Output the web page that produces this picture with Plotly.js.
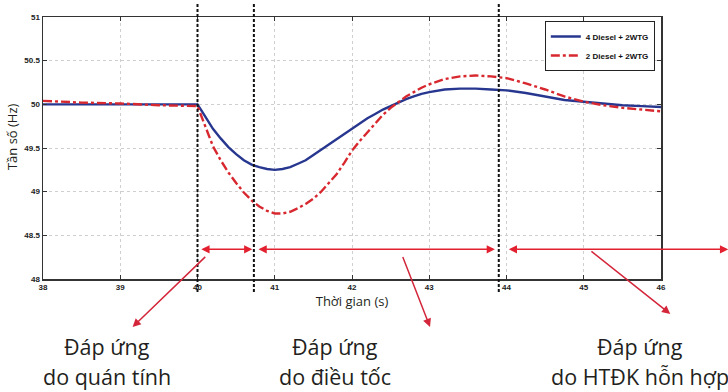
<!DOCTYPE html>
<html><head><meta charset="utf-8">
<script src="https://cdn.plot.ly/plotly-3.0.1.min.js"></script>
<style>html,body{margin:0;padding:0;background:#fff}#chart{width:728px;height:392px}</style>
</head><body><div id="chart"></div>
<script>
// ---- data ----
const time = [38, 38.5, 39, 39.5, 40, 40.05, 40.1, 40.2, 40.3, 40.4, 40.5, 40.6, 40.7, 40.8, 40.9, 41.0, 41.1, 41.2, 41.3, 41.4, 41.5, 41.6, 41.7, 41.8, 41.9, 42.0, 42.1, 42.2, 42.3, 42.4, 42.5, 42.6, 42.7, 42.8, 42.9, 43.0, 43.2, 43.4, 43.6, 43.8, 44.0, 44.25, 44.5, 44.75, 45.0, 45.25, 45.5, 45.75, 46];
const freq4Diesel = [50.0, 50.0, 50.0, 50.0, 50.0, 49.93, 49.86, 49.72, 49.61, 49.51, 49.43, 49.36, 49.31, 49.28, 49.26, 49.25, 49.26, 49.28, 49.32, 49.36, 49.42, 49.48, 49.55, 49.61, 49.67, 49.73, 49.79, 49.84, 49.89, 49.94, 49.98, 50.02, 50.06, 50.09, 50.12, 50.14, 50.17, 50.18, 50.18, 50.17, 50.16, 50.13, 50.09, 50.05, 50.03, 50.01, 49.99, 49.98, 49.97];
const freq2Diesel = [50.04, 50.02, 50.01, 49.99, 49.98, 49.87, 49.75, 49.52, 49.36, 49.22, 49.10, 48.99, 48.90, 48.83, 48.78, 48.75, 48.75, 48.77, 48.81, 48.86, 48.92, 49.00, 49.10, 49.20, 49.33, 49.47, 49.58, 49.68, 49.78, 49.88, 49.96, 50.03, 50.09, 50.14, 50.19, 50.23, 50.29, 50.32, 50.33, 50.32, 50.30, 50.24, 50.17, 50.09, 50.03, 49.99, 49.96, 49.94, 49.92];
const seriesNames = ['4 Diesel + 2WTG', '2 Diesel + 2WTG'];
const xTicks = [38, 39, 40, 41, 42, 43, 44, 45, 46];
const yTicks = [48, 48.5, 49, 49.5, 50, 50.5, 51];
const yTickLabels = ['48', '48.5', '49', '49.5', '50', '50.5', '51'];
const phaseBounds = [40.0, 40.73, 43.9];
const phaseSpanStart = [40.03, 40.77, 44.01];
const phaseSpanEnd = [40.71, 43.85, 46.87];
const phaseArrowY = 48.34;
const pointerTailX = [40.12, 42.65, 45.08];
const pointerTailY = [48.27, 48.27, 48.33];
const pointerHeadX = [39.16, 43.01, 46.12];
const pointerHeadY = [47.45, 47.45, 47.60];
const labelX = [38.83, 41.78, 45.73];
const labelLine1 = ['Đáp ứng', 'Đáp ứng', 'Đáp ứng'];
const labelLine2 = ['do quán tính', 'do điều tốc', 'do HTĐK hỗn hợp'];
const xTitle = 'Thời gian (s)';
const yTitle = 'Tần số (Hz)';

const red = '#e2202f';
const tickFont = {family: 'Liberation Sans, Arial, sans-serif', size: 8, weight: 'bold', color: '#222'};
const labelFont = {family: 'Open Sans, sans-serif', size: 21.5, color: '#231f20'};

const traces = [
  {x: time, y: freq4Diesel, name: seriesNames[0], type: 'scatter', mode: 'lines',
   line: {color: '#27378f', width: 2.4}},
  {x: time, y: freq2Diesel, name: seriesNames[1], type: 'scatter', mode: 'lines',
   line: {color: '#d8282f', width: 2.4, dash: 'dashdot'}}
];

const shapes = phaseBounds.map(b => ({
  type: 'line', xref: 'x', yref: 'paper', x0: b, x1: b, y0: -0.05, y1: 1.055,
  line: {color: '#111', width: 2, dash: '3px,2px'}
}));

const annotations = [];
for (let i = 0; i < phaseSpanStart.length; i++) {
  annotations.push({
    xref: 'x', yref: 'y', axref: 'x', ayref: 'y',
    x: phaseSpanEnd[i], y: phaseArrowY, ax: phaseSpanStart[i], ay: phaseArrowY,
    text: '', showarrow: true, arrowside: 'end+start', arrowhead: 2, arrowsize: 1.1,
    arrowwidth: 1.5, arrowcolor: red, standoff: 0, startstandoff: 0
  });
  annotations.push({
    xref: 'x', yref: 'y', axref: 'x', ayref: 'y',
    x: pointerHeadX[i], y: pointerHeadY[i], ax: pointerTailX[i], ay: pointerTailY[i],
    text: '', showarrow: true, arrowhead: 2, arrowsize: 1.1,
    arrowwidth: 1.5, arrowcolor: '#d3263a', standoff: 0
  });
  annotations.push({
    xref: 'x', yref: 'paper', x: labelX[i], y: -0.258, text: labelLine1[i],
    showarrow: false, xanchor: 'center', yanchor: 'middle', font: labelFont
  });
  annotations.push({
    xref: 'x', yref: 'paper', x: labelX[i], y: -0.372, text: labelLine2[i],
    showarrow: false, xanchor: 'center', yanchor: 'middle', font: labelFont
  });
}
annotations.push({
  xref: 'paper', yref: 'paper', x: -0.05, y: 0.542, text: yTitle, textangle: -90,
  showarrow: false, xanchor: 'center', yanchor: 'middle',
  font: {family: 'Open Sans, sans-serif', size: 13, color: '#231f20'}
});

const axisCommon = {
  showline: true, linecolor: '#333', linewidth: 1.5, mirror: 'allticks',
  ticks: 'inside', ticklen: 4, tickcolor: '#333', tickwidth: 1,
  showgrid: true, gridcolor: '#cfcfcf', griddash: 'dot', gridwidth: 1,
  zeroline: false, tickfont: tickFont
};

const layout = {
  width: 728, height: 392,
  margin: {l: 43, r: 67, t: 17, b: 113},
  paper_bgcolor: '#fff', plot_bgcolor: '#fff',
  showlegend: true,
  legend: {x: 0.99, xanchor: 'right', y: 0.985, yanchor: 'top',
           bgcolor: '#fff', bordercolor: '#222', borderwidth: 1, itemwidth: 30,
           font: {family: 'Liberation Sans, Arial, sans-serif', size: 8, weight: 'bold', color: '#111'},
           tracegroupgap: 0},
  xaxis: Object.assign({}, axisCommon, {
    range: [38, 46], tickvals: xTicks, ticktext: xTicks.map(String),
    title: {text: xTitle, standoff: 6, font: {family: 'Open Sans, sans-serif', size: 13, color: '#231f20'}}
  }),
  yaxis: Object.assign({}, axisCommon, {
    range: [48, 51], tickvals: yTicks, ticktext: yTickLabels
  }),
  shapes: shapes,
  annotations: annotations
};

Plotly.newPlot('chart', traces, layout, {displayModeBar: false, staticPlot: true});
</script>
</body></html>
